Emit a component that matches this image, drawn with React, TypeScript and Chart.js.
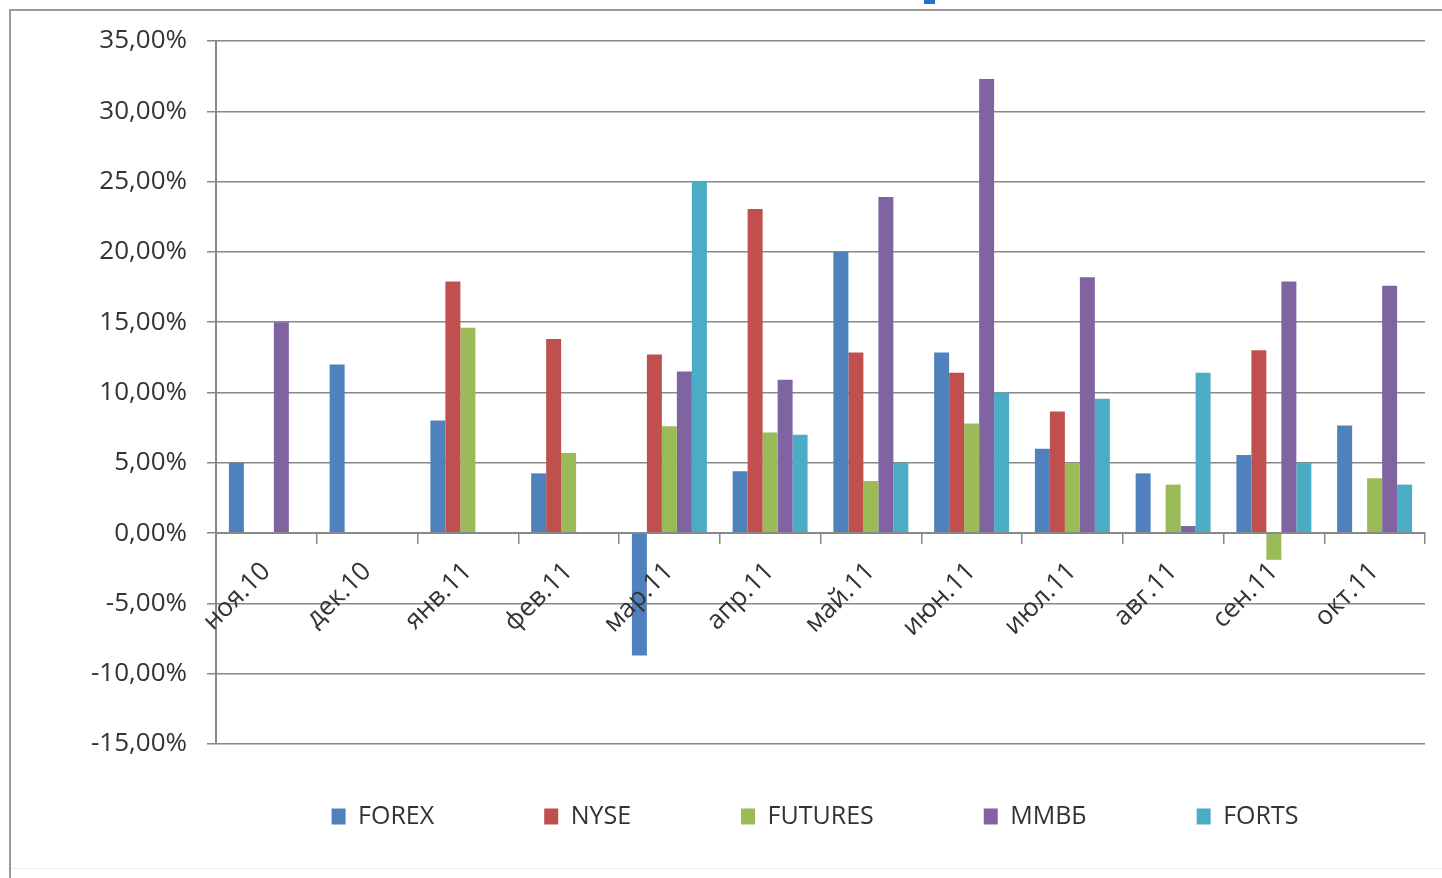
import React, { useEffect, useRef } from "react";
import { Chart, registerables } from "chart.js";

Chart.register(...registerables);

const MONTHS = ["ноя.10", "дек.10", "янв.11", "фев.11", "мар.11", "апр.11", "май.11", "июн.11", "июл.11", "авг.11", "сен.11", "окт.11"];
const FOREX = [5.0, 12.0, 8.0, 4.25, -8.7, 4.4, 20.0, 12.85, 6.0, 4.25, 5.55, 7.65];
const NYSE = [null, null, 17.9, 13.8, 12.7, 23.05, 12.85, 11.4, 8.65, null, 13.0, null];
const FUTURES = [null, null, 14.6, 5.7, 7.6, 7.15, 3.7, 7.8, 5.0, 3.45, -1.9, 3.9];
const MMVB = [15.0, null, null, null, 11.5, 10.9, 23.9, 32.3, 18.2, 0.5, 17.9, 17.6];
const FORTS = [null, null, null, null, 25.0, 7.0, 5.0, 10.0, 9.55, 11.4, 5.0, 3.45];
const SERIES_NAMES = ["FOREX", "NYSE", "FUTURES", "ММВБ", "FORTS"];
const SERIES_COLORS = ["#4f81bd", "#c0504d", "#9bbb59", "#8064a2", "#4bacc6"];
const Y_MIN = -15;
const Y_MAX = 35;
const Y_STEP = 5;

const formatPct = (v: number) => v.toFixed(2).replace(".", ",") + "%";

const FONT = "'Open Sans', 'Noto Sans', sans-serif";
const TEXT = "#333333";
const GRID = "#888888";

// Legend placement: items start 60px below the plot, centred at x = 815
const legendShift = {
  id: "legendShift",
  afterLayout(chart: any) {
    const lg = chart.legend;
    if (!lg) return;
    const pad = lg.options.labels.padding;
    const h = lg.height;
    lg.top = chart.chartArea.bottom + 60 - pad;
    lg.bottom = lg.top + h;
    const w = lg.right - lg.left;
    lg.left = 815 - w / 2;
    lg.right = lg.left + w;
  },
};

export default function App() {
  const ref = useRef<HTMLCanvasElement | null>(null);
  useEffect(() => {
    if (!ref.current) return;
    const all = [FOREX, NYSE, FUTURES, MMVB, FORTS];
    const chart = new Chart(ref.current, {
      type: "bar",
      data: {
        labels: MONTHS,
        datasets: all.map((d, i) => ({
          label: SERIES_NAMES[i],
          data: d,
          backgroundColor: SERIES_COLORS[i],
          borderWidth: 0,
          categoryPercentage: 0.744,
          barPercentage: 1.0,
        })),
      },
      options: {
        responsive: false,
        animation: false,
        layout: { padding: { left: 20, top: 41, right: 17, bottom: 11 } },
        plugins: {
          tooltip: { enabled: false },
          legend: {
            position: "bottom",
            fullSize: true,
            labels: {
              boxWidth: 14,
              boxHeight: 16,
              padding: 110,
              color: TEXT,
              font: { family: FONT, size: 25 },
            },
          },
        },
        scales: {
          x: {
            type: "category",
            position: { y: 0 },
            offset: true,
            grid: {
              display: true,
              drawOnChartArea: false,
              drawTicks: true,
              tickLength: 10,
              offset: true,
              color: GRID,
              lineWidth: 1.5,
              z: 1,
            },
            border: { display: true, color: GRID, width: 2, z: 1 },
            ticks: {
              minRotation: 45,
              maxRotation: 45,
              autoSkip: false,
              padding: 13,
              z: 2,
              color: TEXT,
              font: { family: FONT, size: 26 },
            },
          },
          y: {
            min: Y_MIN,
            max: Y_MAX,
            afterFit: (scale: any) => {
              scale.width = 196;
            },
            grid: { color: GRID, lineWidth: 1.5, tickLength: 9 },
            border: { display: true, color: GRID, width: 2 },
            ticks: {
              stepSize: Y_STEP,
              padding: 20,
              color: TEXT,
              font: { family: FONT, size: 26 },
              callback: (v: any) => formatPct(Number(v)),
            },
          },
        },
      },
      plugins: [legendShift],
    });
    return () => chart.destroy();
  }, []);

  return (
    <div style={{ position: "absolute", left: 0, top: 0, width: 1442, height: 878, overflow: "hidden", background: "#fff" }}>
      <div style={{ position: "absolute", left: 9, top: 9, width: 1450, height: 900, borderLeft: "2px solid #9a9a9a", borderTop: "2px solid #9a9a9a" }} />
      <div style={{ position: "absolute", left: 11, top: 868, width: 1431, height: 1, background: "#ececec" }} />
      <div style={{ position: "absolute", left: 924, top: 0, width: 11, height: 4, background: "#1e73c8" }} />
      <canvas ref={ref} width={1442} height={900} style={{ position: "absolute", left: 0, top: 0, width: 1442, height: 900 }} />
    </div>
  );
}
